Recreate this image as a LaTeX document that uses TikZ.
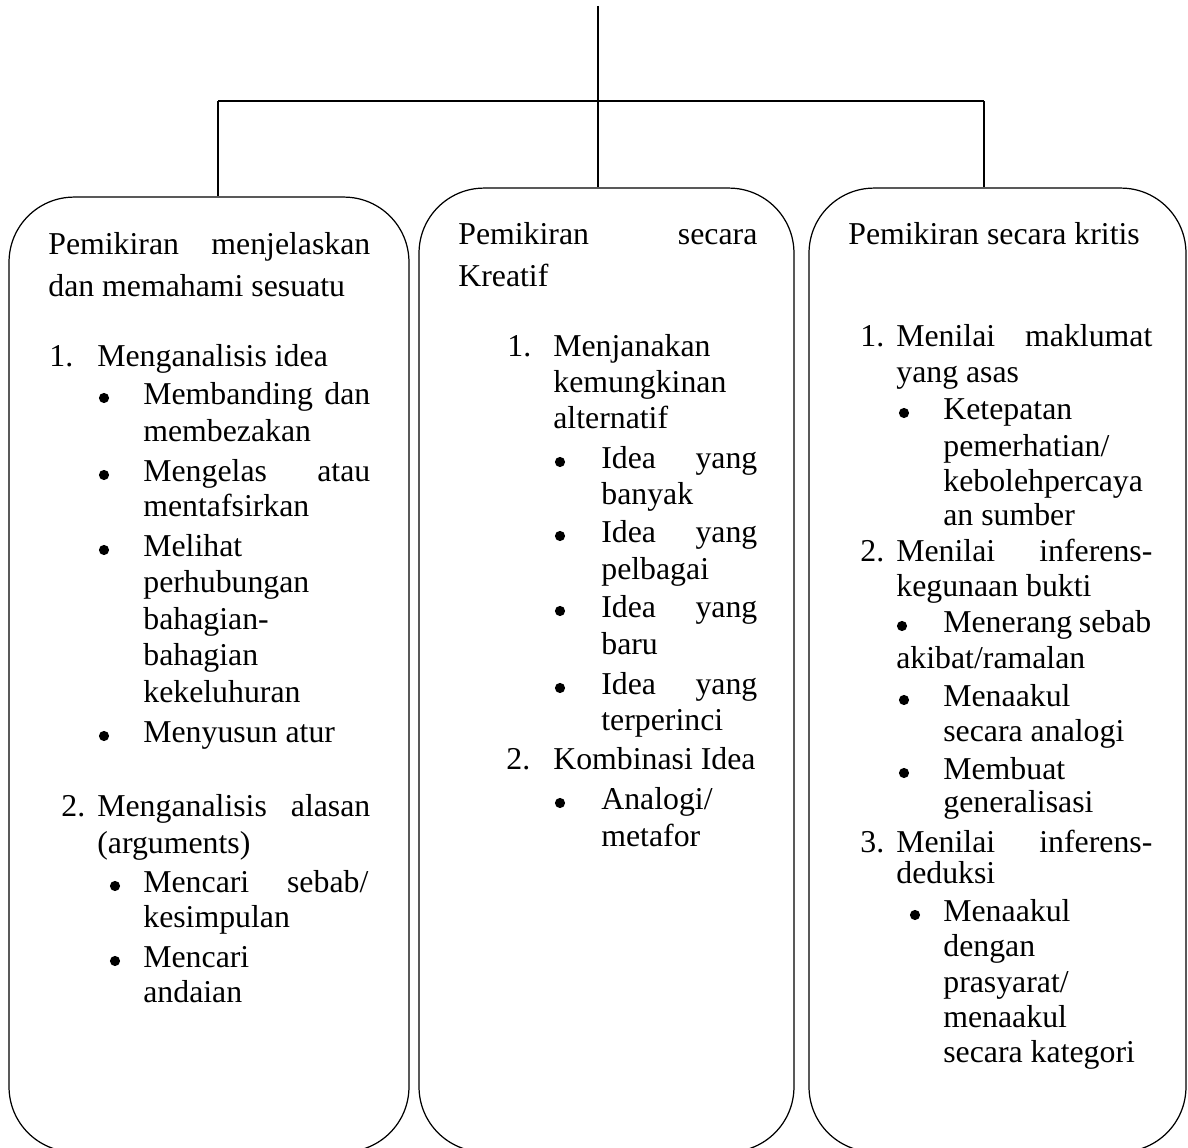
\documentclass[tikz,border=0pt]{standalone}
\usepackage{fontspec}
\setmainfont{Liberation Serif}
\newlength\px
\setlength\px{0.02cm}
% justified line of a given width (in px)
\newcommand\jl[2]{\makebox[#1\px][s]{#2}}

\begin{document}
\begin{tikzpicture}[x=0.02cm,y=-0.02cm,
  panel/.style={draw,line width=0.7pt,rounded corners=1.3cm,inner sep=0pt},
  txt/.style={anchor=base west,inner sep=0pt,font=\fontsize{18.1}{21}\selectfont},
  link/.style={line width=0.8pt}]
\useasboundingbox (0,0) rectangle (1188,1148);
\clip (0,0) rectangle (1188,1148);

% three columns
\node[panel,minimum width=8cm,minimum height=19.1cm] (left) at (209,674.5) {};
\node[panel,minimum width=7.5cm,minimum height=19.28cm] (mid) at (606.5,670) {};
\node[panel,minimum width=7.54cm,minimum height=19.28cm] (right) at (997.5,670) {};

% connectors
\coordinate (root) at (598,6);
\coordinate (ljoin) at (218,101);
\coordinate (rjoin) at (984,101);
\draw[link] (root) -- (root |- mid.north);
\draw[link,line width=1.1pt] (ljoin) -- (rjoin);
\draw[link] (ljoin) -- (ljoin |- left.north);
\draw[link] (rjoin) -- (rjoin |- right.north);

% left column
\foreach \x/\y/\t [count=\i] in {
  48/255/{\jl{322}{Pemikiran menjelaskan}},
  48/297/{dan memahami sesuatu},
  49/367/{1.},
  97/367/{Menganalisis idea},
  143/405/{\jl{227}{Membanding dan}},
  143/442/{membezakan},
  143/482/{\jl{227}{Mengelas atau}},
  143/517/{mentafsirkan},
  143/557/{Melihat},
  143/593/{perhubungan},
  143/630/{bahagian-},
  143/666/{bahagian},
  143/703/{kekeluhuran},
  143/743/{Menyusun atur},
  61/817/{2.},
  97/817/{\jl{273}{Menganalisis alasan}},
  97/854/{(arguments)},
  143/893/{\jl{225}{Mencari sebab/}},
  143/928/{kesimpulan},
  143/968/{Mencari},
  143/1003/{andaian}}
  \node[txt] (l\i) at (\x,\y) {\t};

% middle column
\foreach \x/\y/\t [count=\i] in {
  458/245/{\jl{299}{Pemikiran secara}},
  458/287/{Kreatif},
  507/357/{1.},
  553/357/{Menjanakan},
  553/393/{kemungkinan},
  553/429/{alternatif},
  601/469/{\jl{156}{Idea yang}},
  601/505/{banyak},
  601/543/{\jl{156}{Idea yang}},
  601/580/{pelbagai},
  601/618/{\jl{156}{Idea yang}},
  601/655/{baru},
  601/695/{\jl{156}{Idea yang}},
  601/731/{terperinci},
  506/770/{2.},
  553/770/{Kombinasi Idea},
  601/810/{Analogi/},
  601/847/{metafor}}
  \node[txt] (m\i) at (\x,\y) {\t};

% right column
\foreach \x/\y/\t [count=\i] in {
  848/245/{Pemikiran secara kritis},
  860/347/{1.},
  896/347/{\jl{256}{Menilai maklumat}},
  896/383/{yang asas},
  943/420/{Ketepatan},
  943/457/{pemerhatian/},
  943/492/{kebolehpercaya},
  943/526/{an sumber},
  860/562/{2.},
  896/562/{\jl{256}{Menilai inferens-}},
  896/597/{kegunaan bukti},
  943/633/{\jl{208}{Menerang sebab}},
  896/669/{akibat/ramalan},
  943/707/{Menaakul},
  943/742/{secara analogi},
  943/780/{Membuat},
  943/813/{generalisasi},
  860/853/{3.},
  896/853/{\jl{256}{Menilai inferens-}},
  896/884/{deduksi},
  943/922/{Menaakul},
  943/957/{dengan},
  943/993/{prasyarat/},
  943/1028/{menaakul},
  943/1063/{secara kategori}}
  \node[txt] (r\i) at (\x,\y) {\t};

% bullets
\foreach \x/\y in {104/405,104/482,104/557,104/743,115/893,115/968,
  560/469,560/543,560/618,560/695,560/810,
  904/420,902/633,904/707,904/780,915/922}
  \fill (\x,\y-7) circle (2.9pt);
\end{tikzpicture}
\end{document}
